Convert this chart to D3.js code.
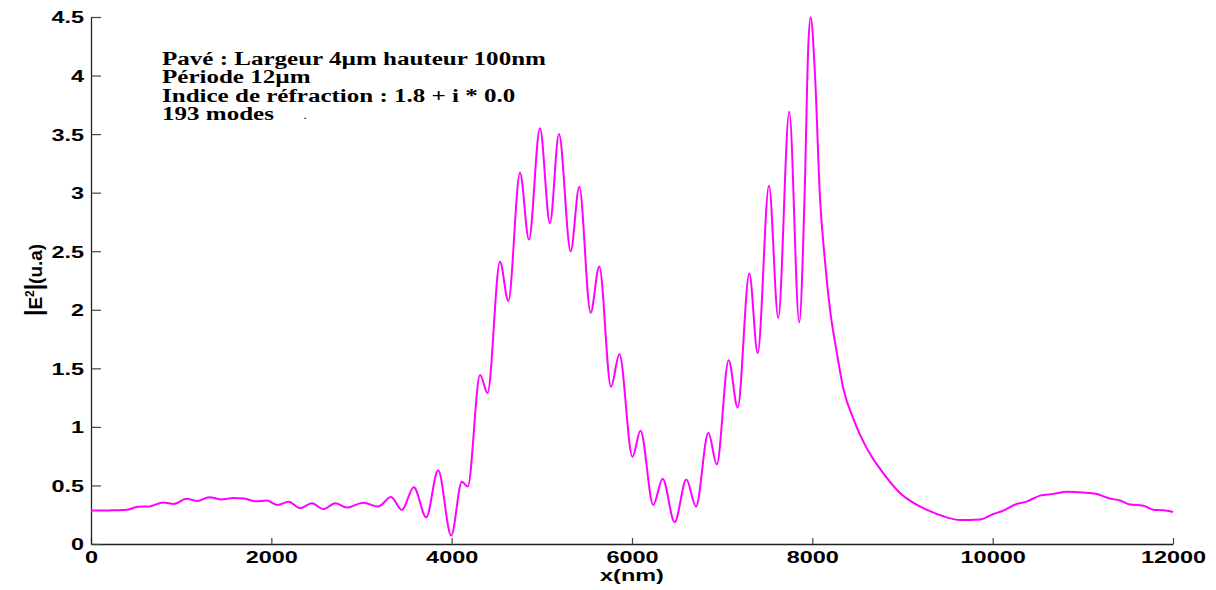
<!DOCTYPE html>
<html>
<head>
<meta charset="utf-8">
<script src="https://cdn.jsdelivr.net/npm/d3@7"></script>
<style>
  html, body { margin: 0; padding: 0; background: #fff; }
  svg { display: block; }
</style>
</head>
<body>
<svg id="chart" width="1216" height="590"></svg>
<script>
// Intensity |E|^2 along x (nm): extrema and shape points of the field profile
const xNm = [0,200,400,520,650,800,920,1060,1180,1310,1440,1580,1700,1830,1950,2070,2190,2322,2450,2577,2710,2838,3020,3186,3328,3448,3580,3718,3850,3995,4113,4178,4315,4398,4536,4628,4758,4857,4979,5090,5190,5320,5415,5541,5637,5767,5860,6005,6094,6236,6340,6473,6603,6710,6847,6940,7072,7172,7301,7394,7519,7622,7744,7855,7915,7955,7981,8030,8084,8140,8195,8269,8343,8454,8528,8676,8731,8972,9267,9500,9637,9859,10007,10118,10266,10377,10525,10673,10820,11005,11153,11301,11412,11523,11671,11782,11893,12000];
const intensity = [0.285,0.287,0.292,0.318,0.321,0.355,0.342,0.386,0.367,0.399,0.381,0.392,0.388,0.364,0.371,0.333,0.360,0.306,0.348,0.298,0.347,0.311,0.353,0.320,0.402,0.290,0.484,0.228,0.630,0.072,0.532,0.490,1.443,1.290,2.410,2.075,3.170,2.600,3.550,2.740,3.500,2.500,3.050,1.975,2.370,1.343,1.620,0.745,0.968,0.334,0.557,0.187,0.550,0.320,0.949,0.680,1.570,1.165,2.310,1.630,3.060,1.930,3.690,1.892,3.000,4.250,4.497,4.000,2.970,2.420,2.010,1.645,1.330,1.070,0.934,0.724,0.663,0.436,0.293,0.225,0.205,0.210,0.256,0.285,0.342,0.362,0.413,0.428,0.447,0.440,0.427,0.388,0.372,0.337,0.327,0.292,0.288,0.273];

const xTicks = [0,2000,4000,6000,8000,10000,12000];
const xTickLabels = ["0","2000","4000","6000","8000","10000","12000"];
const yTicks = [0,0.5,1,1.5,2,2.5,3,3.5,4,4.5];
const yTickLabels = ["0","0.5","1","1.5","2","2.5","3","3.5","4","4.5"];

const infoLines = [
  "Pavé : Largeur 4µm hauteur 100nm",
  "Période 12µm",
  "Indice de réfraction : 1.8 + i * 0.0",
  "193 modes"
];

const svg = d3.select("#chart");
const plotLeft = 91, plotRight = 1173, plotTop = 17, plotBottom = 544;
const stretch = 1.42; // wide rendering of the label fonts

const x = d3.scaleLinear().domain([0, 12000]).range([plotLeft, plotRight]);
const y = d3.scaleLinear().domain([0, 4.5]).range([plotBottom, plotTop]);

function widen(sel, k) {
  sel.each(function () {
    const w = this.getComputedTextLength();
    d3.select(this).attr("textLength", w * k).attr("lengthAdjust", "spacingAndGlyphs");
  });
}

// axes
const xAxis = d3.axisBottom(x)
  .tickValues(xTicks)
  .tickFormat((d, i) => xTickLabels[i])
  .tickSizeInner(-6).tickSizeOuter(0).tickPadding(7);
const yAxis = d3.axisLeft(y)
  .tickValues(yTicks)
  .tickFormat((d, i) => yTickLabels[i])
  .tickSizeInner(-10).tickSizeOuter(0).tickPadding(7);

const gx = svg.append("g").attr("transform", `translate(0,${plotBottom})`).call(xAxis);
const gy = svg.append("g").attr("transform", `translate(${plotLeft},0)`).call(yAxis);

[gx, gy].forEach(g => {
  g.select(".domain").attr("stroke", "#222").attr("stroke-width", 1.3);
  g.selectAll(".tick line").attr("stroke", "#444").attr("stroke-width", 1.2);
  g.selectAll(".tick text")
    .attr("fill", "#000")
    .style("font-family", "'Liberation Sans', Arial, sans-serif")
    .style("font-weight", "bold")
    .style("font-size", "16.5px");
});
gy.selectAll(".tick text").attr("dy", "0.36em");
widen(gx.selectAll(".tick text"), stretch);
widen(gy.selectAll(".tick text"), stretch);

// curve
const pts = xNm.map((d, i) => [d, intensity[i]]);
const line = d3.line()
  .x(d => x(d[0]))
  .y(d => y(d[1]))
  .curve(d3.curveMonotoneX);

svg.append("path")
  .datum(pts)
  .attr("d", line)
  .attr("fill", "none")
  .attr("stroke", "#ff00ff")
  .attr("stroke-width", 2)
  .attr("stroke-linejoin", "round");

// x-axis title
const xt = svg.append("text")
  .attr("x", x(6000)).attr("y", 581)
  .attr("text-anchor", "middle")
  .style("font-family", "'Liberation Sans', Arial, sans-serif")
  .style("font-weight", "bold")
  .style("font-size", "16.5px")
  .text("x(nm)");
widen(xt, stretch);

// y-axis title
const yt = svg.append("text")
  .attr("transform", "translate(42,280) rotate(-90)")
  .attr("text-anchor", "middle")
  .style("font-family", "'Liberation Sans', Arial, sans-serif")
  .style("font-weight", "bold")
  .style("font-size", "19px");
yt.append("tspan").style("font-size", "23px").text("|");
yt.append("tspan").text("E");
yt.append("tspan").attr("dy", -8).style("font-size", "12px").text("2");
yt.append("tspan").attr("dy", 8).style("font-size", "23px").text("|");
yt.append("tspan").text("(u.a)");
yt.attr("textLength", 72).attr("lengthAdjust", "spacingAndGlyphs");

// simulation parameters
const info = svg.append("g")
  .style("font-family", "'Liberation Serif', 'Times New Roman', serif")
  .style("font-weight", "bold")
  .style("font-size", "18px");
info.selectAll("text")
  .data(infoLines)
  .join("text")
  .attr("x", 162)
  .attr("y", (d, i) => 65 + i * 18.4)
  .text(d => d);
widen(info.selectAll("text"), 1.39);
info.append("text").attr("x", 304).attr("y", 119).style("font-size", "9px").text(".");
</script>
</body>
</html>
